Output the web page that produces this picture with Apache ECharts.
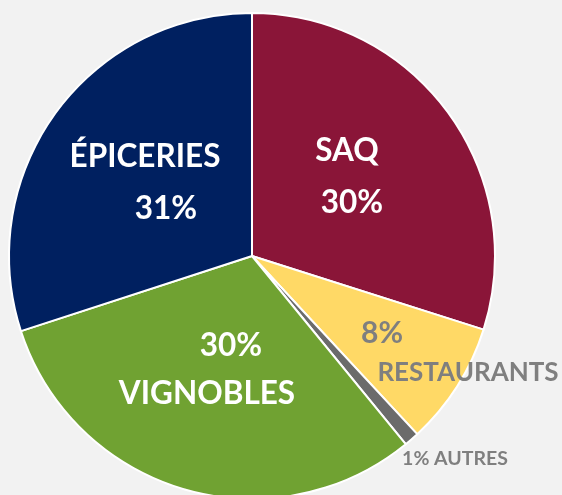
<!DOCTYPE html>
<html>
<head>
<meta charset="utf-8">
<script src="https://cdn.jsdelivr.net/npm/echarts@6/dist/echarts.min.js"></script>
<style>
html,body{margin:0;padding:0;background:#f2f2f2;}
#chart{width:562px;height:495px;}
</style>
</head>
<body>
<div id="chart"></div>
<script>
// Data
const categories = ['SAQ', 'RESTAURANTS', 'AUTRES', 'VIGNOBLES', 'ÉPICERIES'];
const values = [29.9, 8.2, 1.0, 30.9, 30.0];
const shownPercent = ['30%', '8%', '1%', '30%', '31%'];

// Styles
const colors = ['#8a1538', '#ffd966', '#6b6b6b', '#70a232', '#002060'];
const FONT = 'Lato';
const labelAnchors = [
  {x: 347, y: 177},
  {x: 468, y: 353},
  {x: 455, y: 459},
  {x: 207, y: 372},
  {x: 145, y: 183}
];

function labelText(i) {
  const n = categories[i], p = shownPercent[i];
  switch (i) {
    case 0: return '{a|' + n + '}\n{b|' + p + '}';
    case 1: return '{p|' + p + '}\n{n|' + n + '}';
    case 2: return '{s|' + p + ' ' + n + '}';
    case 3: return '{c|' + p + '}\n{a|' + n + '}';
    case 4: return '{a|' + n + '}\n{d|' + p + '}';
  }
}

const chart = echarts.init(document.getElementById('chart'));
chart.setOption({
  backgroundColor: '#f2f2f2',
  animation: false,
  series: [{
    type: 'pie',
    center: [252, 256],
    radius: 243,
    startAngle: 90,
    clockwise: true,
    avoidLabelOverlap: false,
    itemStyle: {borderColor: '#ffffff', borderWidth: 2},
    data: categories.map((c, i) => ({
      name: c,
      value: values[i],
      itemStyle: {color: colors[i]}
    })),
    label: {
      show: true,
      position: 'inside',
      formatter: p => labelText(p.dataIndex),
      fontFamily: FONT,
      fontWeight: 'bold',
      rich: {
        a: {color: '#fff', fontSize: 31.5, fontWeight: 'bold', fontFamily: FONT, lineHeight: 52},
        b: {color: '#fff', fontSize: 31.5, fontWeight: 'bold', fontFamily: FONT, lineHeight: 52, padding: [0, 0, 0, 10]},
        c: {color: '#fff', fontSize: 31.5, fontWeight: 'bold', fontFamily: FONT, lineHeight: 44, padding: [0, 0, 0, 48]},
        d: {color: '#fff', fontSize: 31.5, fontWeight: 'bold', fontFamily: FONT, lineHeight: 52, padding: [0, 0, 0, 42]},
        p: {color: '#7f7f7f', fontSize: 30, fontWeight: 'bold', fontFamily: FONT, lineHeight: 40, padding: [0, 172, 0, 0]},
        n: {color: '#7f7f7f', fontSize: 26, fontWeight: 'bold', fontFamily: FONT, lineHeight: 40},
        s: {color: '#7f7f7f', fontSize: 19.5, fontWeight: 'bold', fontFamily: FONT}
      }
    },
    labelLine: {show: false},
    labelLayout: function (params) {
      const a = labelAnchors[params.dataIndex];
      return {x: a.x, y: a.y, align: 'center', verticalAlign: 'middle'};
    }
  }]
});
</script>
</body>
</html>
